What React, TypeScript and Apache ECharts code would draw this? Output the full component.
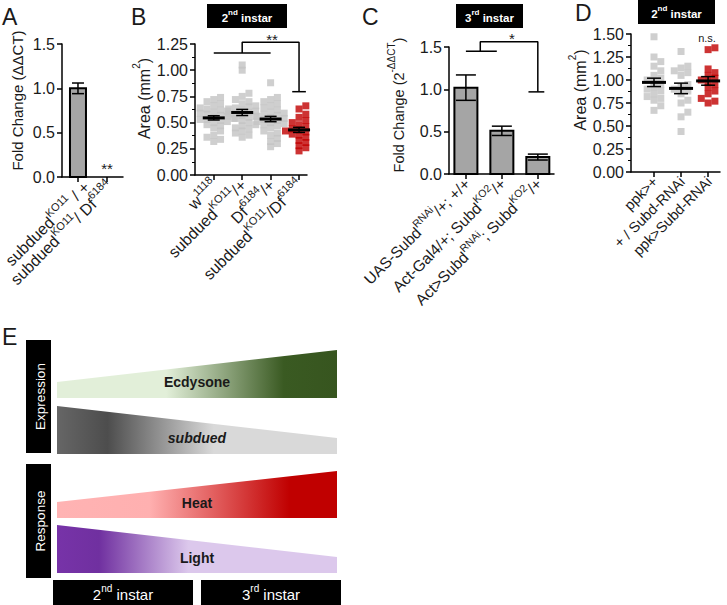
import React, { useEffect, useRef } from 'react';
import * as echarts from 'echarts';

const FONT = '"Liberation Sans", Arial, Helvetica, sans-serif';
const TXT = '#1a1a1a';

// ---------- Panel A ----------
const A_CATEGORIES = ['subdued^KO11^ / +', 'subdued^KO11^/ Df^6184^'];
const A_MEANS = [1.0, 0.0];
const A_SEM = [0.06, 0.0];

// ---------- Panel B ----------
const B_CATEGORIES = ['w^1118^', 'subdued^KO11^/+', 'Df^6184^/+', 'subdued^KO11^/Df^6184^'];
const B_W1118 = [0.32, 0.34, 0.36, 0.38, 0.42, 0.45, 0.47, 0.48, 0.5, 0.51, 0.52, 0.53, 0.54, 0.55, 0.55, 0.56, 0.57, 0.58, 0.59, 0.6, 0.61, 0.62, 0.63, 0.64, 0.66, 0.68, 0.7, 0.72, 0.74, 0.53];
const B_SUBDUED_HET = [0.36, 0.38, 0.4, 0.42, 0.44, 0.45, 0.47, 0.48, 0.5, 0.52, 0.54, 0.55, 0.56, 0.57, 0.58, 0.59, 0.6, 0.61, 0.62, 0.63, 0.64, 0.65, 0.66, 0.68, 0.7, 0.72, 0.75, 0.78, 1.0, 1.05];
const B_DF_HET = [0.27, 0.3, 0.32, 0.35, 0.38, 0.4, 0.42, 0.45, 0.47, 0.49, 0.5, 0.52, 0.53, 0.54, 0.55, 0.56, 0.57, 0.58, 0.6, 0.62, 0.64, 0.66, 0.68, 0.7, 0.72, 0.74, 0.88, 0.51, 0.48, 0.59];
const B_SUBDUED_DF = [0.23, 0.26, 0.28, 0.31, 0.33, 0.36, 0.38, 0.4, 0.41, 0.42, 0.43, 0.44, 0.46, 0.48, 0.5, 0.52, 0.55, 0.58, 0.63, 0.66, 0.45, 0.39];
const B_GROUPS = [B_W1118, B_SUBDUED_HET, B_DF_HET, B_SUBDUED_DF];
const B_SIG_BASE = [[0, 1.164], [2, 1.164]];
const B_SIG_BRACKET = [[1, 1.164], [1, 1.266], [3, 1.266], [3, 0.795]];
const B_SIG_CAP = [[2.76, 0.795], [3.24, 0.795]];

// ---------- Panel C ----------
const C_CATEGORIES = ['UAS-Subd^RNAi^/+; +/+', 'Act-Gal4/+; Subd^KO2^/+', 'Act>Subd^RNAi^; Subd^KO2^/+'];
const C_MEANS = [1.02, 0.51, 0.2];
const C_SEM = [0.15, 0.055, 0.035];
const C_SIG_BASE = [[0, 1.45], [0.86, 1.45]];
const C_SIG_BRACKET = [[0.4, 1.45], [0.4, 1.563], [2, 1.563], [2, 0.97]];
const C_SIG_CAP = [[1.74, 0.97], [2.18, 0.97]];

// ---------- Panel D ----------
const D_CATEGORIES = ['ppk>+', '+ / Subd-RNAi', 'ppk>Subd-RNAi'];
const D_PPK = [1.47, 1.25, 1.2, 1.15, 1.1, 1.05, 1.02, 1.0, 0.98, 0.95, 0.92, 0.9, 0.88, 0.85, 0.82, 0.8, 0.78, 0.72, 0.67];
const D_RNAI_CTRL = [1.31, 1.15, 1.13, 1.1, 1.08, 1.05, 0.95, 0.92, 0.9, 0.88, 0.85, 0.78, 0.75, 0.65, 0.6, 0.44];
const D_PPK_RNAI = [1.35, 1.33, 1.12, 1.08, 1.05, 1.02, 1.0, 0.98, 0.95, 0.92, 0.88, 0.85, 0.8, 0.77, 0.75];
const D_GROUPS = [D_PPK, D_RNAI_CTRL, D_PPK_RNAI];

const toRich = (s: string, b = 'b', sp = 's') =>
  s.split('^').map((p, i) => (p === '' ? '' : `{${i % 2 === 1 ? sp : b}|${p}}`)).join('');

const richStyle = (base: number, sup: number, lh: number) => ({
  b: { fontSize: base, lineHeight: lh, verticalAlign: 'bottom', color: TXT, fontFamily: FONT },
  s: { fontSize: sup, lineHeight: sup + 1, verticalAlign: 'top', color: TXT, fontFamily: FONT },
});

function mean(a: number[]) { return a.reduce((s, v) => s + v, 0) / a.length; }
function sem(a: number[]) {
  const m = mean(a);
  const sd = Math.sqrt(a.reduce((s, v) => s + (v - m) * (v - m), 0) / (a.length - 1));
  return sd / Math.sqrt(a.length);
}

// simple beeswarm: returns x offsets (in axis units)
function swarm(values: number[], pyPerUnit: number, pxPerUnit: number) {
  const order = values.map((_, i) => i).sort((a, b) => values[a] - values[b]);
  const placed: { x: number; y: number }[] = [];
  const offs = new Array(values.length).fill(0);
  const step = 3.4;
  const thr = 5;
  for (const i of order) {
    const y = values[i] * pyPerUnit;
    for (let k = 0; k < 60; k++) {
      const cand = k === 0 ? 0 : (k % 2 ? 1 : -1) * Math.ceil(k / 2) * step;
      const hit = placed.some(p => Math.abs(p.x - cand) < thr && Math.abs(p.y - y) < thr);
      if (!hit) {
        placed.push({ x: cand, y });
        offs[i] = cand / pxPerUnit;
        break;
      }
    }
  }
  return offs;
}

const AXIS_LINE = { color: '#000', width: 1.5 };

// panel layout: value-axis grid (left, top, width, height, xmin, xmax)
const PANELS = [
  { left: 62, top: 44, width: 61, height: 133, min: -0.55, max: 1.55 },
  { left: 195, top: 44, width: 112, height: 131, min: -0.66, max: 3.28 },
  { left: 449, top: 47, width: 105, height: 127, min: -0.47, max: 2.45 },
  { left: 631, top: 34, width: 89, height: 138, min: -0.85, max: 2.44 },
];
const PANEL_LABELS = [A_CATEGORIES, B_CATEGORIES, C_CATEGORIES, D_CATEGORIES];
const LABEL_FONT = [[16, 11], [16, 11], [15.5, 10.5], [14.5, 10]];

function xAxisCfg(gridIndex: number, n: number) {
  const p = PANELS[gridIndex];
  return {
    type: 'value', gridIndex, min: p.min, max: p.max,
    axisLine: { show: true, onZero: false, lineStyle: AXIS_LINE },
    axisTick: { show: true, customValues: Array.from({ length: n }, (_, i) => i), length: 5, lineStyle: AXIS_LINE },
    axisLabel: { show: false },
    splitLine: { show: false },
  };
}

// category axis in an overlay grid whose band centres coincide with the value-axis ticks
function labelGrid(i: number) {
  const p = PANELS[i];
  const n = PANEL_LABELS[i].length;
  const pxPerUnit = p.width / (p.max - p.min);
  const left = p.left + (0 - p.min) * pxPerUnit - pxPerUnit / 2;
  return { left, top: p.top, width: pxPerUnit * n, height: p.height };
}

function labelAxisCfg(i: number) {
  const [fs, sup] = LABEL_FONT[i];
  return {
    type: 'category', gridIndex: 4 + i, data: PANEL_LABELS[i].map(s => toRich(s)),
    axisLine: { show: false }, axisTick: { show: false }, splitLine: { show: false },
    axisLabel: { show: true, interval: 0, rotate: 45, margin: 6, rich: richStyle(fs, sup, fs + 4) },
  };
}

function yAxisCfg(gridIndex: number, max: number, interval: number, digits: number, name: string,
  nameGap: number, padLeft: number, minor: boolean, nameSize: number) {
  return {
    type: 'value', gridIndex, min: 0, max, interval,
    name, nameLocation: 'middle', nameGap, nameRotate: 90,
    nameTextStyle: { fontFamily: FONT, color: TXT, fontSize: nameSize, padding: [0, 0, 0, padLeft], rich: richStyle(nameSize, 10, nameSize + 5) },
    axisLine: { show: true, onZero: false, lineStyle: AXIS_LINE },
    axisTick: { show: true, length: 5, lineStyle: AXIS_LINE },
    minorTick: { show: minor, splitNumber: 2, length: 3, lineStyle: { color: '#000', width: 1 } },
    axisLabel: { formatter: (v: number) => v.toFixed(digits), fontSize: 16, margin: 7, color: TXT, fontFamily: FONT, showMinLabel: true, showMaxLabel: true },
    splitLine: { show: false },
    minorSplitLine: { show: false },
  };
}

// bars with SEM error bars (custom series, positioned through the axes)
function barSeries(idx: number, data: number[][], barHalf: number, capHalf: number) {
  return {
    type: 'custom', xAxisIndex: idx, yAxisIndex: idx, data, z: 8, silent: true,
    renderItem: (_p: any, api: any) => {
      const x = api.value(0), m = api.value(1), e = api.value(2);
      if (!(m > 0)) return { type: 'group', children: [] };
      const base = api.coord([x, 0]);
      const tp = api.coord([x, m]);
      const et = api.coord([x, m + e]);
      const eb = api.coord([x, m - e]);
      const st = { stroke: '#000', lineWidth: 1.5 };
      return {
        type: 'group',
        children: [
          { type: 'rect', shape: { x: base[0] - barHalf, y: tp[1], width: barHalf * 2, height: base[1] - tp[1] }, style: { fill: '#a5a5a5', stroke: '#000', lineWidth: 2 } },
          { type: 'line', shape: { x1: et[0], y1: et[1], x2: eb[0], y2: eb[1] }, style: st },
          { type: 'line', shape: { x1: et[0] - capHalf, y1: et[1], x2: et[0] + capHalf, y2: et[1] }, style: st },
          { type: 'line', shape: { x1: eb[0] - capHalf, y1: eb[1], x2: eb[0] + capHalf, y2: eb[1] }, style: st },
        ],
      };
    },
  };
}

// mean +/- SEM for scatter groups
function meanSeries(idx: number, data: number[][], capHalf: number, meanHalf: number) {
  return {
    type: 'custom', xAxisIndex: idx, yAxisIndex: idx, data, z: 10, silent: true,
    renderItem: (_p: any, api: any) => {
      const x = api.value(0), m = api.value(1), e = api.value(2);
      const top = api.coord([x, m + e]);
      const bot = api.coord([x, m - e]);
      const mid = api.coord([x, m]);
      const st = { stroke: '#000', lineWidth: 1.5 };
      return {
        type: 'group',
        children: [
          { type: 'line', shape: { x1: top[0], y1: top[1], x2: bot[0], y2: bot[1] }, style: st },
          { type: 'line', shape: { x1: top[0] - capHalf, y1: top[1], x2: top[0] + capHalf, y2: top[1] }, style: st },
          { type: 'line', shape: { x1: bot[0] - capHalf, y1: bot[1], x2: bot[0] + capHalf, y2: bot[1] }, style: st },
          { type: 'line', shape: { x1: mid[0] - meanHalf, y1: mid[1], x2: mid[0] + meanHalf, y2: mid[1] }, style: { stroke: '#000', lineWidth: 3 } },
        ],
      };
    },
  };
}

function sigLine(idx: number, pts: number[][]) {
  return {
    type: 'line', xAxisIndex: idx, yAxisIndex: idx, data: pts, symbol: 'none', clip: false, silent: true,
    lineStyle: { color: '#000', width: 1.5 }, z: 5,
  };
}

function scatterSeries(idx: number, groups: number[][], colors: string[], py: number, px: number) {
  return groups.map((g, gi) => {
    const offs = swarm(g, py, px);
    return {
      type: 'scatter', xAxisIndex: idx, yAxisIndex: idx, symbol: 'rect', symbolSize: 7, silent: true,
      itemStyle: { color: colors[gi] },
      data: g.map((v, i) => [gi + offs[i], v]),
    };
  });
}

function blackBox(x: number, y: number, w: number, h: number, text: string, size: number, bold: boolean, rotate = false) {
  const fw = bold ? 'bold' : 'normal';
  return {
    type: 'group',
    children: [
      { type: 'rect', shape: { x, y, width: w, height: h }, style: { fill: '#000' } },
      {
        type: 'text', x: x + w / 2, y: y + h / 2, rotation: rotate ? Math.PI / 2 : 0,
        style: {
          text: toRich(text), align: 'center', verticalAlign: 'middle', textAlign: 'center', textVerticalAlign: 'middle',
          rich: {
            b: { fontSize: size, lineHeight: size + 4, verticalAlign: 'bottom', fill: '#fff', color: '#fff', fontFamily: FONT, fontWeight: fw },
            s: { fontSize: Math.round(size * 0.68), verticalAlign: 'top', fill: '#fff', color: '#fff', fontFamily: FONT, fontWeight: fw },
          },
        },
      },
    ],
  };
}

function plainText(x: number, y: number, text: string, size: number, opts: any = {}) {
  return {
    type: 'text', x, y,
    style: {
      text, fontSize: size, fontFamily: FONT, fill: TXT, align: 'center', verticalAlign: 'middle',
      textAlign: 'center', textVerticalAlign: 'middle', ...opts,
    },
  };
}

function grad(stops: [number, string][]) {
  return new echarts.graphic.LinearGradient(0, 0, 1, 0, stops.map(([offset, color]) => ({ offset, color })));
}

export default function App() {
  const ref = useRef<HTMLDivElement>(null);
  useEffect(() => {
    document.body.style.margin = '0';
    if (!ref.current) return;
    const chart = echarts.init(ref.current, null, { renderer: 'svg' });

    const bSummary = B_GROUPS.map((g, i) => [i, mean(g), sem(g)]);
    const dSummary = D_GROUPS.map((g, i) => [i, mean(g), sem(g)]);
    const GRAY = '#c3c3c3';
    const RED = '#c00000';

    const option: any = {
      animation: false,
      backgroundColor: '#fff',
      textStyle: { fontFamily: FONT },
      grid: [
        ...PANELS.map(p => ({ left: p.left, top: p.top, width: p.width, height: p.height })),
        ...PANELS.map((_, i) => labelGrid(i)),
      ],
      xAxis: [
        xAxisCfg(0, A_CATEGORIES.length),
        xAxisCfg(1, B_CATEGORIES.length),
        xAxisCfg(2, C_CATEGORIES.length),
        xAxisCfg(3, D_CATEGORIES.length),
        ...PANELS.map((_, i) => labelAxisCfg(i)),
      ],
      yAxis: [
        yAxisCfg(0, 1.5, 0.5, 1, '{b|Fold Change (ΔΔCT)}', 37, 20, false, 15),
        yAxisCfg(1, 1.25, 0.25, 2, '{b|Area (mm}{s|2}{b|)}', 37, 22, true, 16),
        yAxisCfg(2, 1.5, 0.5, 1, '{b|Fold Change (2}{s|-ΔΔCT}{b|)}', 43, 11, false, 14.5),
        yAxisCfg(3, 1.5, 0.25, 2, '{b|Area (mm}{s|2}{b|)}', 31, 26, true, 16),
        ...PANELS.map((_, i) => ({ type: 'value', gridIndex: 4 + i, show: false })),
      ],
      series: [
        barSeries(0, A_MEANS.map((v, i) => [i, v, A_SEM[i]]), 8, 6),
        ...scatterSeries(1, B_GROUPS, [GRAY, GRAY, GRAY, RED], 104.8, 28.5),
        meanSeries(1, bSummary, 6, 11),
        sigLine(1, B_SIG_BASE),
        sigLine(1, B_SIG_BRACKET),
        sigLine(1, B_SIG_CAP),
        barSeries(2, C_MEANS.map((v, i) => [i, v, C_SEM[i]]), 11.5, 10),
        sigLine(2, C_SIG_BASE),
        sigLine(2, C_SIG_BRACKET),
        sigLine(2, C_SIG_CAP),
        ...scatterSeries(3, D_GROUPS, [GRAY, GRAY, RED], 92, 27),
        meanSeries(3, dSummary, 7, 12),
      ],
      graphic: [
        // panel letters
        { type: 'text', x: 2, y: 5, style: { text: 'A', fontSize: 23, fontFamily: FONT, fill: TXT } },
        { type: 'text', x: 131, y: 5, style: { text: 'B', fontSize: 23, fontFamily: FONT, fill: TXT } },
        { type: 'text', x: 362, y: 5, style: { text: 'C', fontSize: 23, fontFamily: FONT, fill: TXT } },
        { type: 'text', x: 575, y: 1, style: { text: 'D', fontSize: 23, fontFamily: FONT, fill: TXT } },
        { type: 'text', x: 2, y: 325, style: { text: 'E', fontSize: 23, fontFamily: FONT, fill: TXT } },
        // stage header boxes
        blackBox(207, 4, 80, 24, '2^nd^ instar', 11.5, true),
        blackBox(456, 4, 67, 24, '3^rd^ instar', 11.5, true),
        blackBox(638, 0, 77, 24, '2^nd^ instar', 11.5, true),
        // significance labels
        plainText(107, 168, '**', 15),
        plainText(272, 39, '**', 15),
        plainText(512, 38, '*', 15),
        plainText(707, 38, 'n.s.', 11),
        // panel E
        blackBox(26, 340, 25, 113, 'Expression', 13.5, false, true),
        blackBox(26, 464, 25, 114, 'Response', 13.5, false, true),
        blackBox(53, 580, 140, 25, '2^nd^ instar', 15, false),
        blackBox(201, 580, 140, 25, '3^rd^ instar', 15, false),
        {
          type: 'polygon', shape: { points: [[57, 398], [57, 382], [337, 350], [337, 398]] },
          style: { fill: grad([[0, '#e2efd9'], [0.39, '#e2efd9'], [0.81, '#3a5a22'], [1, '#37551f']]) },
        },
        {
          type: 'polygon', shape: { points: [[57, 406], [337, 438], [337, 454], [57, 454]] },
          style: { fill: grad([[0, '#666666'], [0.18, '#4d4d4d'], [0.56, '#d9d9d9'], [1, '#d9d9d9']]) },
        },
        {
          type: 'polygon', shape: { points: [[57, 518], [57, 502], [337, 471], [337, 518]] },
          style: { fill: grad([[0, '#ffb3b3'], [0.33, '#ffb0b0'], [0.83, '#c00000'], [1, '#c00000']]) },
        },
        {
          type: 'polygon', shape: { points: [[57, 525], [337, 557], [337, 573], [57, 573]] },
          style: { fill: grad([[0, '#7733a8'], [0.15, '#7030a0'], [0.47, '#dcc8ec'], [1, '#dcc8ec']]) },
        },
        plainText(197, 382, 'Ecdysone', 14, { fontWeight: 'bold', fill: '#1a1a1a' }),
        plainText(197, 438, 'subdued', 14, { fontWeight: 'bold', fontStyle: 'italic', fill: '#1a1a1a' }),
        plainText(197, 503, 'Heat', 14, { fontWeight: 'bold', fill: '#1a1a1a' }),
        plainText(197, 558, 'Light', 14, { fontWeight: 'bold', fill: '#1a1a1a' }),
      ],
    };
    chart.setOption(option);
    return () => chart.dispose();
  }, []);
  return <div ref={ref} style={{ width: 727, height: 605 }} />;
}
